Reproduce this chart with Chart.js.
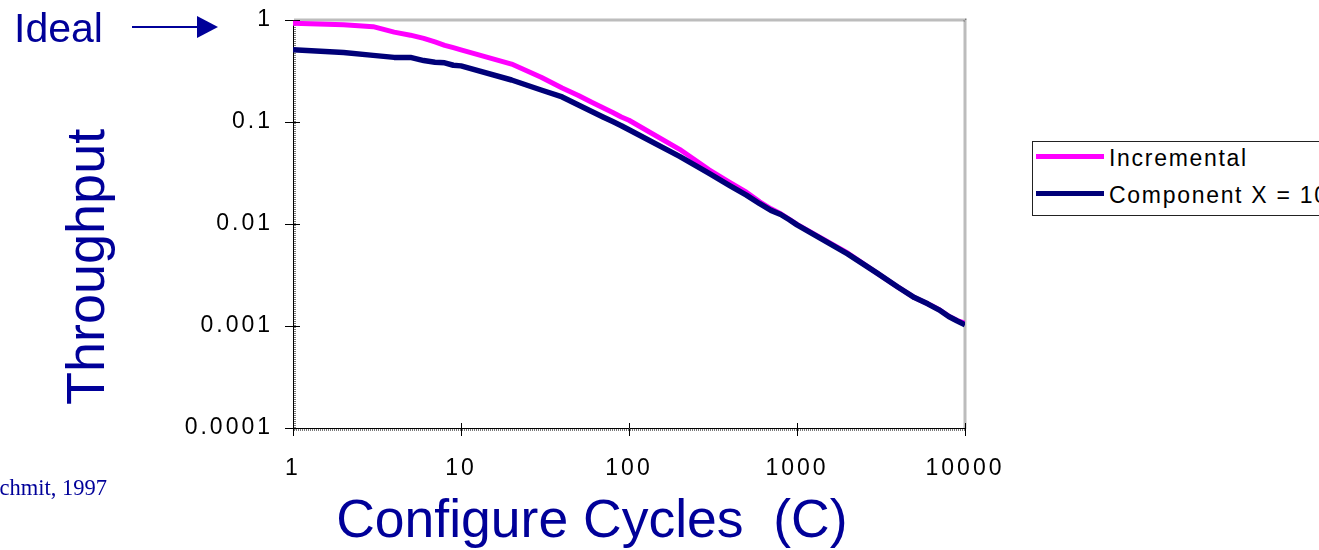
<!DOCTYPE html>
<html>
<head>
<meta charset="utf-8">
<script src="https://cdn.jsdelivr.net/npm/chart.js@4.4.1/dist/chart.umd.min.js"></script>
<style>
  body { margin: 0; overflow: hidden; background: #fff; width: 1319px; height: 550px; position: relative; }
  #wrap { position: absolute; left: 0; top: 0; width: 1319px; height: 550px; }
  .note { position: absolute; white-space: nowrap; color: #000099; }
  #ideal { left: 14px; top: 8px; font: 41px "Liberation Sans", Arial, sans-serif; line-height: 41px; }
  #cite { left: -13px; top: 477px; font: 22.5px "Liberation Serif", "Times New Roman", serif; line-height: 22px; }
  #legend { position: absolute; left: 1032px; top: 141px; width: 330px; height: 73px; border: 1px solid #222; background: #fff; }
  .item { position: absolute; left: 0; height: 30px; white-space: nowrap;
          font: 23px "Liberation Sans", Arial, sans-serif; letter-spacing: 1.7px; color: #000; }
  .swatch { position: absolute; left: 3px; width: 68px; height: 5px; }
  .label { position: absolute; left: 76px; line-height: 23px; }
</style>
</head>
<body>
<div id="wrap"><canvas id="chartCanvas" width="1319" height="550"></canvas></div>
<div class="note" id="ideal">Ideal</div>
<div class="note" id="cite">Schmit, 1997</div>
<div id="legend"></div>

<script>
// configure cycles (x) and throughput of the two schemes
const cycles = [1, 2, 3, 4, 5, 6, 7, 8, 9, 10,
  20, 30, 40, 50, 60, 70, 80, 90, 100,
  200, 300, 400, 500, 600, 700, 800, 900, 1000,
  2000, 3000, 4000, 5000, 6000, 7000, 8000, 9000, 10000];

const incremental = [0.93, 0.9, 0.86, 0.76, 0.71, 0.66, 0.61, 0.565, 0.535, 0.51,
  0.37, 0.275, 0.215, 0.182, 0.156, 0.138, 0.124, 0.112, 0.104,
  0.054, 0.034, 0.0255, 0.0205, 0.0165, 0.0141, 0.0126, 0.0111, 0.0099,
  0.0052, 0.0033, 0.0024, 0.0019, 0.00165, 0.00145, 0.00125, 0.00113, 0.00107];

const component = [0.51, 0.48, 0.45, 0.43, 0.43, 0.4, 0.385, 0.38, 0.36, 0.355,
  0.258, 0.206, 0.176, 0.147, 0.127, 0.112, 0.101, 0.092, 0.084,
  0.046, 0.0313, 0.0237, 0.0192, 0.0158, 0.0136, 0.0124, 0.011, 0.0098,
  0.0051, 0.0033, 0.0024, 0.0019, 0.00165, 0.00144, 0.00124, 0.00112, 0.00103];

const xTicks = [1, 10, 100, 1000, 10000];
const xTickLabels = ['1', '10', '100', '1000', '10000'];
const yTicks = [0.0001, 0.001, 0.01, 0.1, 1];
const yTickLabels = ['0.0001', '0.001', '0.01', '0.1', '1'];

const seriesNames = ['Incremental', 'Component X = 10'];
const seriesColors = ['#ff00ff', '#000078'];

const navy = '#000099';
const tickFont = { family: '"Liberation Sans", Arial, sans-serif', size: 23 };
const titleFont = { family: '"Liberation Sans", Arial, sans-serif', size: 54, lineHeight: 1 };
// trailing blanks push the titles off the centre like in the slide
const pad = '\u00a0'.repeat(5);

function toPoints(values) {
    return cycles.map((c, i) => ({ x: c, y: values[i] }));
}

// frame, inner tick marks, letter spaced tick labels, the "Ideal" arrow
const excelLook = {
    id: 'excelLook',
    beforeDraw(chart) {
        const { ctx, chartArea: a } = chart;
        ctx.save();
        ctx.strokeStyle = '#7a7a7a';
        ctx.lineWidth = 3;
        ctx.setLineDash([1, 1]);
        ctx.strokeRect(a.left + 1.5, a.top, a.right - a.left - 1.5, a.bottom - a.top + 1.5);
        ctx.restore();
    },
    beforeDatasetsDraw(chart) {
        const { ctx, chartArea: a, scales } = chart;
        ctx.save();
        ctx.strokeStyle = '#000';
        ctx.lineWidth = 1;
        yTicks.forEach(v => {
            const y = Math.round(scales.y.getPixelForValue(v)) + 0.5;
            ctx.beginPath();
            ctx.moveTo(a.left, y);
            ctx.lineTo(a.left + 7, y);
            ctx.stroke();
        });
        xTicks.forEach(v => {
            const x = Math.round(scales.x.getPixelForValue(v)) + 0.5;
            ctx.beginPath();
            ctx.moveTo(x, a.bottom);
            ctx.lineTo(x, a.bottom - 5);
            ctx.stroke();
        });
        ctx.restore();
    },
    afterDatasetsDraw(chart) {
        chart.ctx.letterSpacing = '3px';
    },
    afterDraw(chart) {
        const { ctx, chartArea: a, scales } = chart;
        ctx.letterSpacing = '0px';
        const y = scales.y.getPixelForValue(1) + 7;
        const tip = a.left - 75;
        ctx.save();
        ctx.strokeStyle = navy;
        ctx.fillStyle = navy;
        ctx.lineWidth = 2;
        ctx.beginPath();
        ctx.moveTo(tip - 86, y);
        ctx.lineTo(tip - 18, y);
        ctx.stroke();
        ctx.beginPath();
        ctx.moveTo(tip, y);
        ctx.lineTo(tip - 21, y - 11);
        ctx.lineTo(tip - 21, y + 11);
        ctx.closePath();
        ctx.fill();
        ctx.restore();
    }
};

const ctx = document.querySelector('#chartCanvas');

const chart = new Chart(ctx, {
    type: 'line',
    data: {
        datasets: [
            {
                label: seriesNames[0],
                data: toPoints(incremental),
                borderColor: seriesColors[0],
                borderWidth: 5,
                order: 1
            },
            {
                label: seriesNames[1],
                data: toPoints(component),
                borderColor: seriesColors[1],
                borderWidth: 5.5,
                order: 0
            }
        ]
    },
    options: {
        responsive: false,
        animation: false,
        events: [],
        layout: {
            padding: { left: 0, top: 20, right: 354, bottom: 0 }
        },
        elements: {
            point: { radius: 0 },
            line: { tension: 0, borderJoinStyle: 'round', borderCapStyle: 'butt' }
        },
        plugins: {
            legend: { display: false },
            tooltip: { enabled: false }
        },
        scales: {
            x: {
                type: 'logarithmic',
                min: 1,
                max: 10000,
                afterBuildTicks: scale => { scale.ticks = xTicks.map(v => ({ value: v })); },
                afterFit: scale => {
                    scale.height = 122;
                    scale.paddingLeft = 0;
                    scale.paddingRight = 0;
                },
                grid: { drawOnChartArea: false, tickLength: 8, color: '#000', tickColor: '#000' },
                border: { display: true, color: '#000', width: 1 },
                ticks: {
                    z: 1,
                    autoSkip: false,
                    maxRotation: 0,
                    padding: 19,
                    color: '#000',
                    font: tickFont,
                    callback: (value, index) => xTickLabels[index]
                },
                title: {
                    display: true,
                    text: 'Configure Cycles  (C)' + pad,
                    color: navy,
                    font: { ...titleFont, size: 53.5 },
                    padding: { top: 0, bottom: 1 }
                }
            },
            y: {
                type: 'logarithmic',
                min: 0.0001,
                max: 1,
                afterBuildTicks: scale => { scale.ticks = yTicks.map(v => ({ value: v })); },
                afterFit: scale => {
                    scale.width = 293;
                    scale.paddingTop = 0;
                    scale.paddingBottom = 0;
                },
                grid: { drawOnChartArea: false, tickLength: 8, color: '#000', tickColor: '#000' },
                border: { display: true, color: '#000', width: 1 },
                ticks: {
                    z: 1,
                    autoSkip: false,
                    padding: 12,
                    color: '#000',
                    font: tickFont,
                    callback: (value, index) => yTickLabels[index]
                },
                title: {
                    display: true,
                    text: 'Throughput' + pad + '\u2009',
                    color: navy,
                    font: titleFont,
                    padding: { top: 62, bottom: 0 }
                }
            }
        }
    },
    plugins: [excelLook]
});

// legend box built from the datasets
const legend = document.querySelector('#legend');
chart.data.datasets.forEach((ds, i) => {
    const item = document.createElement('div');
    item.className = 'item';
    item.style.top = (i * 37) + 'px';
    item.innerHTML = '<div class="swatch" style="top:12px;background:' + ds.borderColor + '"></div>' +
        '<div class="label" style="top:5px">' + ds.label + '</div>';
    legend.appendChild(item);
});
</script>
</body>
</html>
